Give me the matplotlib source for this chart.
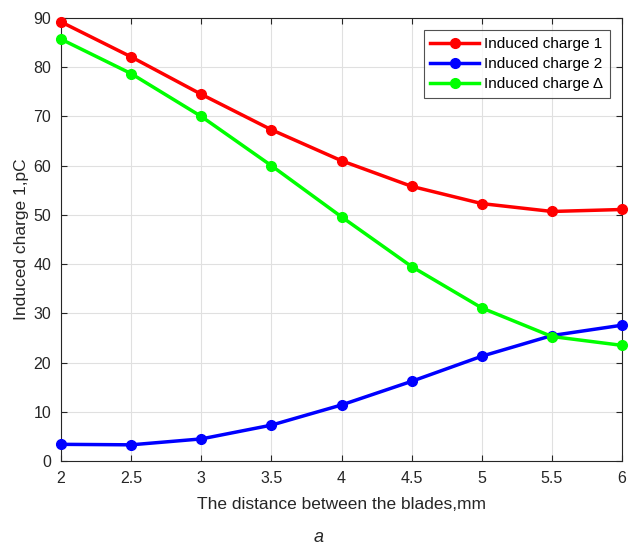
import matplotlib
matplotlib.use("Agg")
import matplotlib.pyplot as plt

x = [2, 2.5, 3, 3.5, 4, 4.5, 5, 5.5, 6]
charge1 = [89.2, 82.1, 74.5, 67.3, 61.0, 55.8, 52.3, 50.7, 51.1]
charge2 = [3.4, 3.3, 4.5, 7.3, 11.4, 16.2, 21.3, 25.5, 27.6]
charge_delta = [85.7, 78.7, 70.0, 60.0, 49.6, 39.5, 31.1, 25.3, 23.5]
labels = ["Induced charge 1", "Induced charge 2", "Induced charge Δ"]
xticks = [2, 2.5, 3, 3.5, 4, 4.5, 5, 5.5, 6]
yticks = [0, 10, 20, 30, 40, 50, 60, 70, 80, 90]

plt.rcParams['font.family'] = ['Liberation Sans', 'DejaVu Sans']

fig = plt.figure(figsize=(6.29, 5.45), dpi=100)
ax = fig.add_axes([0.097, 0.154, 0.892, 0.813])

for ys, c, lab in [(charge1, '#ff0000', labels[0]), (charge2, '#0000ff', labels[1]),
                   (charge_delta, '#00ff00', labels[2])]:
    ax.plot(x, ys, '-o', color=c, lw=2.5, ms=7, label=lab, clip_on=False, zorder=3)

ax.set_xlim(2, 6)
ax.set_ylim(0, 90)
ax.set_xticks(xticks)
ax.set_xticklabels([f"{t:g}" for t in xticks])
ax.set_yticks(yticks)
ax.grid(True, color='#e0e0e0', lw=0.8)
ax.set_axisbelow(True)
ax.tick_params(direction='in', length=4, labelsize=11.5, colors='#262626', top=True, right=True,
               labeltop=False, labelright=False)
ax.tick_params(axis='x', pad=7)
ax.tick_params(axis='y', pad=7)
for s in ax.spines.values():
    s.set_color('#262626')
    s.set_linewidth(0.8)

ax.set_xlabel("The distance between the blades,mm", fontsize=12.5, color='#262626', labelpad=8)
ax.set_ylabel("Induced charge 1,pC", fontsize=12.5, color='#262626', labelpad=3)

leg = ax.legend(loc='upper right', fontsize=11, frameon=True, fancybox=False,
                edgecolor='#262626', borderaxespad=0.8, handlelength=3.2,
                labelspacing=0.4, borderpad=0.45, handletextpad=0.3)
leg.get_frame().set_linewidth(0.8)
leg.set_zorder(5)

fig.text(0.507, 1 - 538 / 545, "a", fontsize=13, style='italic', ha='center', va='center', color='#262626')

fig.savefig("out.png", dpi=100)
